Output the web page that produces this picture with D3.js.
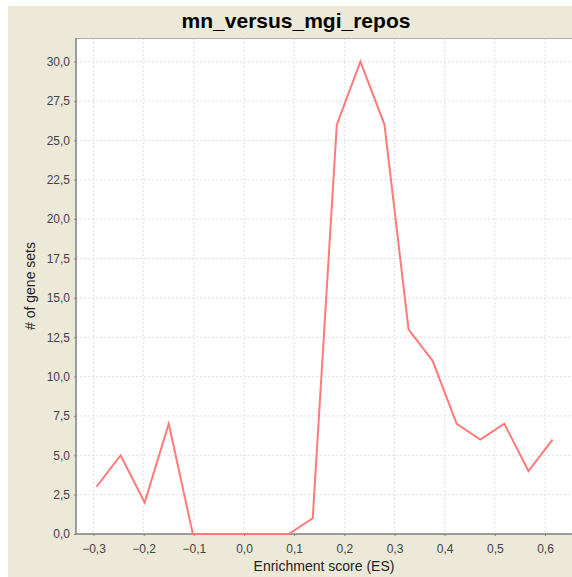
<!DOCTYPE html>
<html>
<head>
<meta charset="utf-8">
<script src="https://cdn.jsdelivr.net/npm/d3@7"></script>
<style>
  body { margin: 0; background: #fff; }
  svg { display: block; font-family: "Liberation Sans", Arial, sans-serif; }
</style>
</head>
<body>
<div id="chart"></div>
<script>
// ES bin centres and counts
var esScores = [-0.294, -0.246, -0.198, -0.150, -0.102, -0.055, -0.007, 0.041, 0.089, 0.137,
                0.185, 0.232, 0.280, 0.328, 0.376, 0.424, 0.471, 0.519, 0.567, 0.615];
var geneSets = [3, 5, 2, 7, 0, 0, 0, 0, 0, 1,
                26, 30, 26, 13, 11, 7, 6, 7, 4, 6];
var xTicks = [-0.3, -0.2, -0.1, 0.0, 0.1, 0.2, 0.3, 0.4, 0.5, 0.6];
var yTicks = [0, 2.5, 5, 7.5, 10, 12.5, 15, 17.5, 20, 22.5, 25, 27.5, 30];

var w = 572, h = 577,
    m = [38, 0, 43, 76]; // top right bottom left

var fmt = function(d) { return d3.format(".1f")(d).replace(".", ","); };

var svg = d3.select("#chart").append("svg")
    .attr("width", w)
    .attr("height", h);

svg.append("rect")
    .attr("x", 8).attr("y", 6)
    .attr("width", w - 8).attr("height", h - 6)
    .attr("fill", "#ece9d8");

var pw = w - m[1] - m[3],
    ph = h - m[0] - m[2];

var x = d3.scaleLinear().domain([-0.3, 0.6]).range([93.5 - m[3], 545 - m[3]]);
var y = d3.scaleLinear().domain([0, 31.5]).range([ph, 0]);

var g = svg.append("g")
    .attr("transform", "translate(" + m[3] + "," + m[0] + ")");

g.append("rect")
    .attr("width", pw).attr("height", ph)
    .attr("fill", "#fff");

// grid
g.selectAll("line.gx").data(xTicks)
  .enter().append("line")
    .attr("class", "gx")
    .attr("x1", x).attr("x2", x)
    .attr("y1", 0).attr("y2", ph)
    .attr("stroke", "#e0e0e0").attr("stroke-dasharray", "2,2");

g.selectAll("line.gy").data(yTicks)
  .enter().append("line")
    .attr("class", "gy")
    .attr("x1", 0).attr("x2", pw)
    .attr("y1", y).attr("y2", y)
    .attr("stroke", "#e0e0e0").attr("stroke-dasharray", "2,2");

// top border
g.append("line")
    .attr("x1", 0).attr("x2", pw).attr("y1", 0.5).attr("y2", 0.5)
    .attr("stroke", "#b0b0b0");

// axes
var xAxis = g.append("g")
    .attr("transform", "translate(0," + ph + ")")
    .call(d3.axisBottom(x).tickValues(xTicks).tickFormat(fmt).tickSize(2).tickSizeOuter(0));

var yAxis = g.append("g")
    .call(d3.axisLeft(y).tickValues(yTicks).tickFormat(fmt).tickSize(2).tickSizeOuter(0));

[xAxis, yAxis].forEach(function(a) {
  a.select(".domain").attr("stroke", "#808080").attr("stroke-width", 1.5).attr("d",
    a === xAxis ? "M0,0H" + pw : "M0,0V" + ph);
  a.selectAll(".tick line").attr("stroke", "#808080");
  a.selectAll(".tick text")
      .attr("fill", "#444")
      .style("font-size", "12px")
      .style("font-family", "Liberation Sans, Arial, sans-serif");
});
xAxis.selectAll(".tick text").attr("dy", "1.2em");
yAxis.selectAll(".tick text").attr("x", -6);

// series line
var line = d3.line()
    .x(function(d, i) { return x(esScores[i]); })
    .y(function(d) { return y(d); });

g.append("path")
    .datum(geneSets)
    .attr("d", line)
    .attr("fill", "none")
    .attr("stroke", "#ff7a7a")
    .attr("stroke-width", 2)
    .attr("stroke-linejoin", "miter");

// titles
svg.append("text")
    .attr("x", 296).attr("y", 28)
    .attr("text-anchor", "middle")
    .style("font-size", "21px")
    .style("font-weight", "bold")
    .attr("fill", "#000")
    .text("mn_versus_mgi_repos");

svg.append("text")
    .attr("x", m[3] + pw / 2).attr("y", 571)
    .attr("text-anchor", "middle")
    .style("font-size", "14px")
    .attr("fill", "#222")
    .text("Enrichment score (ES)");

svg.append("text")
    .attr("transform", "translate(35," + (m[0] + ph / 2) + ") rotate(-90)")
    .attr("text-anchor", "middle")
    .style("font-size", "14px")
    .attr("fill", "#222")
    .text("# of gene sets");
</script>
</body>
</html>
